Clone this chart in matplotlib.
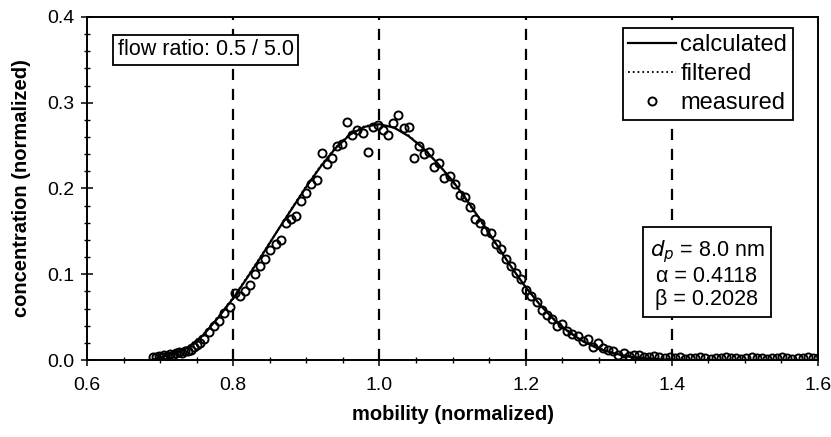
import matplotlib.pyplot as plt
from matplotlib.ticker import MultipleLocator, FormatStrFormatter

plt.rcParams['font.family'] = ['Liberation Sans', 'DejaVu Sans']

# calculated / filtered curves
mob_curve = [0.69, 0.70, 0.72, 0.74, 0.76, 0.78, 0.80, 0.82, 0.84, 0.86, 0.88, 0.90,
             0.92, 0.94, 0.96, 0.98, 1.00, 1.02, 1.04, 1.06, 1.08, 1.10, 1.12, 1.14,
             1.16, 1.18, 1.20, 1.22, 1.24, 1.26, 1.28, 1.30, 1.32, 1.34, 1.36, 1.38,
             1.40, 1.42]
conc_calc = [0.000, 0.003, 0.008, 0.016, 0.030, 0.050, 0.072, 0.097, 0.123, 0.150, 0.176, 0.202,
             0.226, 0.247, 0.263, 0.272, 0.275, 0.271, 0.261, 0.247, 0.229, 0.209, 0.186, 0.161,
             0.135, 0.109, 0.085, 0.064, 0.046, 0.032, 0.021, 0.013, 0.008, 0.004, 0.002, 0.001,
             0.000, 0.000]
conc_filt = [0.001, 0.003, 0.008, 0.017, 0.031, 0.051, 0.073, 0.098, 0.124, 0.150, 0.177, 0.203,
             0.227, 0.248, 0.264, 0.273, 0.275, 0.271, 0.262, 0.247, 0.229, 0.208, 0.185, 0.160,
             0.134, 0.109, 0.085, 0.064, 0.047, 0.033, 0.022, 0.014, 0.008, 0.005, 0.003, 0.002,
             0.001, 0.001]

# measured points
mob_meas = [0.690, 0.694, 0.698, 0.702, 0.706, 0.710, 0.714, 0.718, 0.722, 0.726, 0.730, 0.734,
            0.738, 0.742, 0.746, 0.750, 0.755, 0.760, 0.767,
            0.774, 0.781, 0.788, 0.795, 0.802, 0.809, 0.816, 0.823, 0.830, 0.837, 0.844, 0.851,
            0.858, 0.865, 0.872, 0.879, 0.886, 0.893, 0.900, 0.907, 0.914, 0.921, 0.928, 0.935,
            0.942, 0.949, 0.956, 0.963, 0.970, 0.977, 0.984, 0.991, 0.998, 1.005, 1.012, 1.019,
            1.026, 1.033, 1.040, 1.047, 1.054, 1.061, 1.068, 1.075, 1.082, 1.089, 1.096, 1.103,
            1.110, 1.117, 1.124, 1.131, 1.138, 1.145, 1.152, 1.159, 1.166, 1.173, 1.180, 1.187,
            1.194, 1.201, 1.208, 1.215, 1.222, 1.229, 1.236, 1.243, 1.250, 1.257, 1.264, 1.271,
            1.278, 1.285, 1.292, 1.299, 1.306, 1.313, 1.320, 1.327, 1.334, 1.341, 1.348, 1.355,
            1.362, 1.369, 1.376, 1.383, 1.390, 1.397, 1.404, 1.411, 1.418, 1.425, 1.432, 1.439,
            1.446, 1.453, 1.460, 1.467, 1.474, 1.481, 1.488, 1.495, 1.502, 1.509, 1.516, 1.523,
            1.530, 1.537, 1.544, 1.551, 1.558, 1.565, 1.572, 1.579, 1.586, 1.593, 1.600]
conc_meas = [0.004, 0.003, 0.005, 0.004, 0.006, 0.005, 0.007, 0.006, 0.008, 0.009, 0.008, 0.010,
             0.011, 0.012, 0.015, 0.017, 0.020, 0.024, 0.033,
             0.040, 0.045, 0.055, 0.062, 0.078, 0.075, 0.080, 0.088, 0.100, 0.110, 0.118, 0.128,
             0.135, 0.140, 0.160, 0.165, 0.168, 0.185, 0.195, 0.205, 0.210, 0.241, 0.228, 0.236,
             0.250, 0.252, 0.278, 0.262, 0.268, 0.265, 0.243, 0.272, 0.274, 0.268, 0.262, 0.276,
             0.286, 0.270, 0.272, 0.236, 0.250, 0.240, 0.243, 0.225, 0.230, 0.212, 0.215, 0.205,
             0.193, 0.190, 0.178, 0.165, 0.160, 0.150, 0.148, 0.135, 0.130, 0.118, 0.110, 0.102,
             0.095, 0.082, 0.075, 0.068, 0.058, 0.052, 0.048, 0.040, 0.042, 0.034, 0.030, 0.028,
             0.022, 0.024, 0.015, 0.020, 0.014, 0.012, 0.010, 0.006, 0.008, 0.005, 0.006, 0.006,
             0.004, 0.003, 0.005, 0.003, 0.002, 0.003, 0.002, 0.003, 0.001, 0.002, 0.002, 0.003,
             0.002, 0.001, 0.002, 0.002, 0.003, 0.002, 0.002, 0.001, 0.002, 0.003, 0.002, 0.002,
             0.001, 0.002, 0.002, 0.003, 0.002, 0.001, 0.002, 0.002, 0.003, 0.002, 0.002]

ref_lines = [0.8, 1.0, 1.2, 1.4]

fig = plt.figure(figsize=(8.31, 4.37), dpi=100)
ax = fig.add_axes([0.1047, 0.1762, 0.8797, 0.7849])

for xv in ref_lines:
    ax.axvline(xv, color='black', linestyle=(0, (5, 4)), linewidth=1.6, zorder=1)

ax.plot(mob_meas, conc_meas, linestyle='none', marker='o', markersize=5.8,
        markerfacecolor='none', markeredgecolor='black', markeredgewidth=1.4,
        label='measured', zorder=3)
ax.plot(mob_curve, conc_calc, color='black', linewidth=1.6, label='calculated', zorder=4)
ax.plot(mob_curve, conc_filt, color='black', linewidth=1.3, linestyle=':', label='filtered', zorder=4)

ax.set_xlim(0.6, 1.6)
ax.set_ylim(0.0, 0.4)
ax.xaxis.set_major_locator(MultipleLocator(0.2))
ax.xaxis.set_minor_locator(MultipleLocator(0.05))
ax.yaxis.set_major_locator(MultipleLocator(0.1))
ax.yaxis.set_minor_locator(MultipleLocator(0.02))
ax.xaxis.set_major_formatter(FormatStrFormatter('%.1f'))
ax.yaxis.set_major_formatter(FormatStrFormatter('%.1f'))
ax.tick_params(which='major', direction='inout', length=8, width=1.1, labelsize=14, pad=5)
ax.tick_params(which='minor', direction='inout', length=5, width=1)
ax.tick_params(axis='x', pad=8)
for s in ax.spines.values():
    s.set_linewidth(1.4)

ax.set_xlabel('mobility (normalized)', fontsize=14.5, fontweight='bold', labelpad=8)
ax.set_ylabel('concentration (normalized)', fontsize=14.5, fontweight='bold', labelpad=12)

handles, labels = ax.get_legend_handles_labels()
order = [1, 2, 0]
leg = ax.legend([handles[i] for i in order], [labels[i] for i in order],
                loc='upper right', bbox_to_anchor=(0.966, 0.968), fontsize=17,
                frameon=True, fancybox=False, edgecolor='black', framealpha=1,
                handlelength=2.0, handletextpad=0.2, borderpad=0.25, labelspacing=0.3,
                borderaxespad=0)
leg.get_frame().set_linewidth(1.3)
leg.set_zorder(6)

ax.text(0.042, 0.904, 'flow ratio: 0.5 / 5.0', transform=ax.transAxes, fontsize=15.5,
        va='center', ha='left', zorder=6,
        bbox=dict(boxstyle='square,pad=0.2', facecolor='white', edgecolor='black', linewidth=1.3))

ax.text(0.848, 0.251, '$d_p$ = 8.0 nm\nα = 0.4118\nβ = 0.2028', transform=ax.transAxes,
        fontsize=15.5, va='center', ha='center', linespacing=1.1, zorder=6,
        bbox=dict(boxstyle='square,pad=0.33', facecolor='white', edgecolor='black', linewidth=1.3))

fig.savefig('out.png', dpi=100)
